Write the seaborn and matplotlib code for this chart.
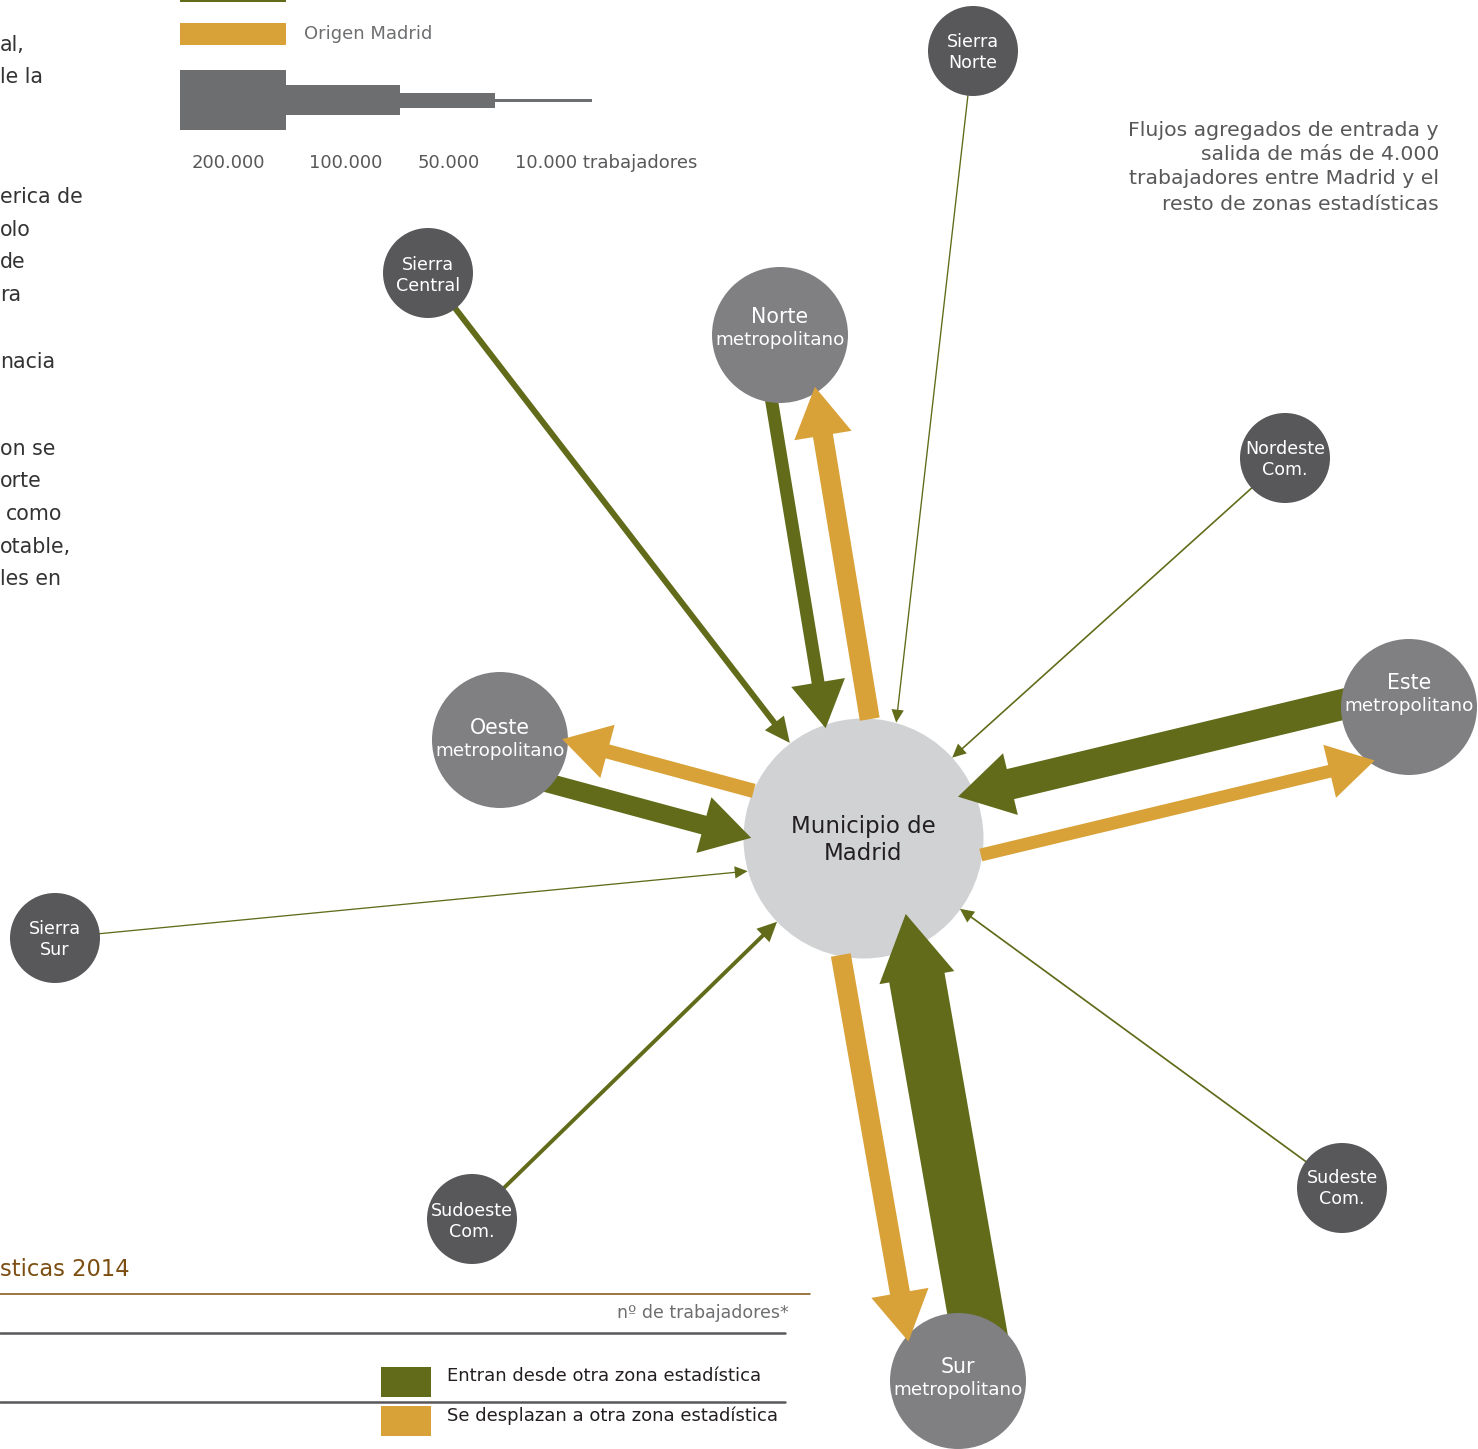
import numpy as np
import pandas as pd
import matplotlib.pyplot as plt
import seaborn as sns
from matplotlib.patches import FancyArrow

# ============================================================================
# Datos: trabajadores entre el Municipio de Madrid y las zonas estadísticas
# ============================================================================
zonas = ['Norte metropolitano', 'Oeste metropolitano', 'Este metropolitano',
         'Sur metropolitano', 'Sierra Norte', 'Sierra Central', 'Nordeste Com.',
         'Sierra Sur', 'Sudoeste Com.', 'Sudeste Com.']
entran = [43000, 64000, 103000, 187000, 4500, 20000, 5500, 4300, 13000, 5800]  # hacia Madrid
salen = [67000, 48000, 43000, 67000, 0, 0, 0, 0, 0, 0]                           # desde Madrid

escala_valores = [200000, 100000, 50000, 10000]
escala_textos = ['200.000', '100.000', '50.000', '10.000 trabajadores']

titulo = ['Flujos agregados de entrada y', 'salida de más de 4.000',
          'trabajadores entre Madrid y el', 'resto de zonas estadísticas']
texto_izq = ['al,', 'le la', 'erica de', 'olo', 'de', 'ra', 'nacia',
             'on se', 'orte', 'como', 'otable,', 'les en']

# ============================================================================
# Layout (pixels on the 1478 x 1449 canvas)
# ============================================================================
W, H, DPI = 1478, 1449, 100
madrid_xy = np.array([863.0, 838.0])
madrid_r = 120
zona_x = [780, 500, 1409, 958, 973, 428, 1285, 55, 472, 1342]
zona_y = [335, 740, 707, 1381, 51, 273, 458, 938, 1219, 1188]
zona_r = [68] * 4 + [45] * 6
# where each zone's arrows aim, relative to Madrid's centre
aim_dx = [0, 0, 0, 0, 20, 0, 0, 0, 0, 0]
aim_dy = [0, 0, 0, 0, 0, 0, 0, 22, 0, 0]
off_in = [19, 29, 18, 29, 0, 0, 0, 0, 0, 0]        # perpendicular shift of green arrows
off_out = [-26, -17, -44, -42, 0, 0, 0, 0, 0, 0]   # perpendicular shift of orange arrows
label_dy = [0, 6, -6, 4, 0, 1, 0, 0, 1, -1]
texto_izq_y = [45, 77, 197, 230, 262, 295, 362, 449, 481, 514, 547, 579]
texto_izq_x = [0, 0, 0, 0, 0, 0, 0, 0, 0, 6, 0, 0]
PX = 60 / 200000   # px of arrow width per worker

VERDE = '#616b19'
NARANJA = '#d9a238'
GRIS_MAD = '#d1d2d4'
GRIS_METRO = '#808083'
GRIS_OSC = '#58585a'
GRIS_TXT = '#6d6e70'
MARRON = '#7d4e12'

sns.set_theme(style='white')
plt.rcParams['font.family'] = ['DejaVu Sans']

fig = plt.figure(figsize=(W / DPI, H / DPI), dpi=DPI)
ax = fig.add_axes([0, 0, 1, 1])


def area(r):
    # scatter size (pt^2) for a circle of radius r px
    return (2 * r * 72 / DPI) ** 2


# nodes
madrid = pd.DataFrame({'x': [madrid_xy[0]], 'y': [madrid_xy[1]]})
sns.scatterplot(data=madrid, x='x', y='y', s=area(madrid_r), color=GRIS_MAD,
                linewidth=0, legend=False, ax=ax, zorder=1)

nodos = pd.DataFrame({'x': zona_x, 'y': zona_y,
                      'tipo': ['metro'] * 4 + ['com'] * 6})
sns.scatterplot(data=nodos, x='x', y='y', hue='tipo', size='tipo',
                palette={'metro': GRIS_METRO, 'com': GRIS_OSC},
                sizes={'metro': area(68), 'com': area(45)},
                linewidth=0, legend=False, ax=ax, zorder=3)


def flecha(p0, p1, w, color, z):
    d = p1 - p0
    if w >= 10:
        hw = 0.5 * w + 48
        hl = 0.85 * hw
    else:
        hw = 2.5 * w + 9
        hl = 1.05 * hw
    ax.add_patch(FancyArrow(p0[0], p0[1], d[0], d[1], width=w, head_width=hw,
                            head_length=hl, length_includes_head=True,
                            color=color, lw=0, zorder=z))


def entrada_circulo(A, u, C, R):
    # first t where A + u*t enters the circle (C, R)
    q = A - C
    b = np.dot(q, u)
    c = np.dot(q, q) - R ** 2
    return -b - np.sqrt(b * b - c)


for i in range(len(zonas)):
    Z = np.array([zona_x[i], zona_y[i]], dtype=float)
    r = zona_r[i]
    v = madrid_xy + np.array([aim_dx[i], aim_dy[i]]) - Z
    u = v / np.hypot(*v)
    n = np.array([-u[1], u[0]])

    # entran (verde): zona -> Madrid
    w = max(entran[i] * PX, 1.3)
    A = Z + n * off_in[i]
    t_edge = entrada_circulo(A, u, madrid_xy, madrid_r)
    inset = max(0, 0.7 * w - 5)
    flecha(A + u * 0.5 * r, A + u * (t_edge + inset), w, VERDE, 2)

    # salen (naranja): Madrid -> zona
    if salen[i] > 0:
        w = salen[i] * PX
        A = Z + n * off_out[i]
        t_edge = entrada_circulo(A, u, madrid_xy, madrid_r)
        t_tip = np.sqrt(r ** 2 - off_out[i] ** 2) - 6
        flecha(A + u * (t_edge + 1), A + u * t_tip, w, NARANJA, 4)

# node labels
ax.text(madrid_xy[0], 826, 'Municipio de', ha='center', va='center',
        fontsize=16.5, color='#231f20', zorder=5)
ax.text(madrid_xy[0], 853, 'Madrid', ha='center', va='center',
        fontsize=16.5, color='#231f20', zorder=5)
for i, nombre in enumerate(zonas):
    l1, l2 = nombre.split(' ', 1)
    cy = zona_y[i] + label_dy[i]
    if zona_r[i] > 50:
        ax.text(zona_x[i], cy - 18, l1, ha='center', va='center',
                fontsize=14.8, color='white', zorder=5)
        ax.text(zona_x[i], cy + 5, l2, ha='center', va='center',
                fontsize=13.2, color='white', zorder=5)
    else:
        ax.text(zona_x[i], cy - 9, l1, ha='center', va='center',
                fontsize=12.6, color='white', zorder=5)
        ax.text(zona_x[i], cy + 12, l2, ha='center', va='center',
                fontsize=12.6, color='white', zorder=5)

# ----------------------------------------------------------------------------
# Top legend
# ----------------------------------------------------------------------------
ax.bar(180, 22, bottom=-20, width=106, align='edge', color=VERDE, lw=0)
ax.bar(180, 22, bottom=23, width=106, align='edge', color=NARANJA, lw=0)
ax.text(304, 34, 'Origen Madrid', ha='left', va='center', fontsize=13, color=GRIS_TXT)

escala_x = [180, 286, 400, 495]
escala_w = [106, 114, 95, 97]
for xv, wv, val in zip(escala_x, escala_w, escala_valores):
    h = val * PX
    ax.bar(xv, h, bottom=100 - h / 2, width=wv, align='edge', color=GRIS_TXT, lw=0)
for xv, t in zip([228, 346, 449], escala_textos[:3]):
    ax.text(xv, 163, t, ha='center', va='center', fontsize=13, color=GRIS_OSC)
ax.text(515, 163, escala_textos[3], ha='left', va='center', fontsize=13, color=GRIS_OSC)

# title on the right
for yv, t in zip([130, 155, 179, 204], titulo):
    ax.text(1439, yv, t, ha='right', va='center', fontsize=14.7, color=GRIS_OSC)

# cut-off paragraph on the left
for xv, yv, t in zip(texto_izq_x, texto_izq_y, texto_izq):
    ax.text(xv, yv, t, ha='left', va='center', fontsize=14.8, color='#333333')

# ----------------------------------------------------------------------------
# Bottom table header
# ----------------------------------------------------------------------------
ax.text(0, 1270, 'sticas 2014', ha='left', va='center', fontsize=16.3, color=MARRON)
ax.plot([0, 810], [1294, 1294], color=MARRON, lw=1.1)
ax.text(789, 1313, 'nº de trabajadores*', ha='right', va='center', fontsize=12.5, color=GRIS_TXT)
ax.plot([0, 785], [1333, 1333], color=GRIS_OSC, lw=1.8)
ax.plot([0, 785], [1402, 1402], color=GRIS_OSC, lw=1.8)
ax.bar(381, 30, bottom=1367, width=50, align='edge', color=VERDE, lw=0)
ax.bar(381, 30, bottom=1406, width=50, align='edge', color=NARANJA, lw=0)
ax.text(447, 1376, 'Entran desde otra zona estadística', ha='left', va='center',
        fontsize=13, color='#231f20')
ax.text(447, 1416, 'Se desplazan a otra zona estadística', ha='left', va='center',
        fontsize=13, color='#231f20')

ax.set_xlim(0, W)
ax.set_ylim(H, 0)
ax.set_axis_off()

fig.savefig('out.png', dpi=DPI)
